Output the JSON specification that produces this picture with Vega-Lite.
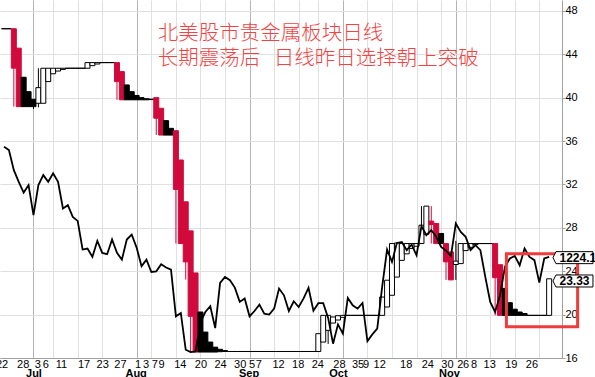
{
  "$schema": "https://vega.github.io/schema/vega-lite/v6.json",
  "width": 562,
  "height": 358,
  "autosize": {"type": "none"},
  "padding": {"left": 0, "top": 0, "right": 33, "bottom": 19},
  "background": "white",
  "config": {
    "view": {"stroke": null},
    "axis": {"labelFont": "Liberation Sans", "labelFontSize": 11, "labelColor": "#000000"}
  },
  "datasets": {
    "candles": [
      {"i":0,"o":46.35,"c":46.35,"t":"h"},
      {"i":1,"o":46.35,"c":46.35,"t":"h"},
      {"i":2,"o":46.35,"c":42.72,"t":"r","hi":46.35,"lo":39.17},
      {"i":3,"o":44.56,"c":39.17,"t":"r"},
      {"i":4,"o":41.88,"c":39.17,"t":"b"},
      {"i":5,"o":40.55,"c":39.17,"t":"b"},
      {"i":6,"o":39.85,"c":39.17,"t":"b","hi":39.85,"lo":38.95},
      {"i":7,"o":39.48,"c":40.92,"t":"h","hi":42.71,"lo":39.1},
      {"i":8,"o":39.48,"c":42.71,"t":"h"},
      {"i":9,"o":41.48,"c":42.71,"t":"h"},
      {"i":10,"o":42.2,"c":42.71,"t":"h"},
      {"i":11,"o":42.45,"c":42.71,"t":"h"},
      {"i":12,"o":42.6,"c":42.71,"t":"h"},
      {"i":13,"o":42.71,"c":42.71,"t":"h"},
      {"i":14,"o":42.71,"c":42.71,"t":"h"},
      {"i":15,"o":42.71,"c":42.71,"t":"h"},
      {"i":16,"o":42.71,"c":42.71,"t":"h"},
      {"i":17,"o":42.71,"c":43.23,"t":"h"},
      {"i":18,"o":42.95,"c":43.23,"t":"h"},
      {"i":19,"o":43.1,"c":43.23,"t":"h"},
      {"i":20,"o":43.23,"c":43.23,"t":"h"},
      {"i":21,"o":43.23,"c":43.23,"t":"h"},
      {"i":22,"o":43.23,"c":43.23,"t":"h"},
      {"i":23,"o":43.23,"c":41.48,"t":"r","hi":43.23,"lo":39.8},
      {"i":24,"o":42.4,"c":39.8,"t":"r"},
      {"i":25,"o":41.17,"c":39.8,"t":"b"},
      {"i":26,"o":40.55,"c":39.8,"t":"b"},
      {"i":27,"o":40.2,"c":39.8,"t":"b"},
      {"i":28,"o":40.0,"c":39.8,"t":"b"},
      {"i":29,"o":39.9,"c":39.8,"t":"b"},
      {"i":30,"o":39.86,"c":39.82,"t":"b"},
      {"i":31,"o":40.0,"c":38.1,"t":"r","hi":40.0,"lo":36.56},
      {"i":32,"o":39.02,"c":36.55,"t":"r"},
      {"i":33,"o":37.88,"c":36.55,"t":"b"},
      {"i":34,"o":37.17,"c":36.55,"t":"b"},
      {"i":35,"o":36.95,"c":31.54,"t":"r","hi":36.95,"lo":26.55},
      {"i":36,"o":34.25,"c":26.55,"t":"r"},
      {"i":37,"o":30.4,"c":24.86,"t":"r","hi":30.4,"lo":23.23},
      {"i":38,"o":27.72,"c":19.84,"t":"r","hi":27.72,"lo":16.55},
      {"i":39,"o":23.84,"c":16.55,"t":"r"},
      {"i":40,"o":20.24,"c":16.55,"t":"b"},
      {"i":41,"o":18.39,"c":16.55,"t":"b"},
      {"i":42,"o":17.47,"c":16.55,"t":"b"},
      {"i":43,"o":17.0,"c":16.55,"t":"b"},
      {"i":44,"o":16.8,"c":16.58,"t":"b"},
      {"i":45,"o":16.68,"c":16.6,"t":"b"},
      {"i":46,"o":16.6,"c":16.6,"t":"h"},
      {"i":47,"o":16.6,"c":16.6,"t":"h"},
      {"i":48,"o":16.6,"c":16.6,"t":"h"},
      {"i":49,"o":16.6,"c":16.6,"t":"h"},
      {"i":50,"o":16.6,"c":16.6,"t":"h"},
      {"i":51,"o":16.6,"c":16.6,"t":"h"},
      {"i":52,"o":16.6,"c":16.6,"t":"h"},
      {"i":53,"o":16.6,"c":16.6,"t":"h"},
      {"i":54,"o":16.6,"c":16.6,"t":"h"},
      {"i":55,"o":16.6,"c":16.6,"t":"h"},
      {"i":56,"o":16.6,"c":16.6,"t":"h"},
      {"i":57,"o":16.6,"c":16.6,"t":"h"},
      {"i":58,"o":16.6,"c":16.6,"t":"h"},
      {"i":59,"o":16.6,"c":16.6,"t":"h"},
      {"i":60,"o":16.6,"c":16.6,"t":"h"},
      {"i":61,"o":16.6,"c":16.6,"t":"h"},
      {"i":62,"o":16.6,"c":16.6,"t":"h"},
      {"i":63,"o":16.6,"c":16.6,"t":"h"},
      {"i":64,"o":16.6,"c":18.24,"t":"h"},
      {"i":65,"o":17.47,"c":19.93,"t":"h"},
      {"i":66,"o":18.55,"c":19.93,"t":"h","hi":19.93,"lo":17.3},
      {"i":67,"o":19.22,"c":19.78,"t":"h"},
      {"i":68,"o":19.5,"c":19.9,"t":"h"},
      {"i":69,"o":19.75,"c":19.93,"t":"h"},
      {"i":70,"o":19.93,"c":19.93,"t":"h"},
      {"i":71,"o":19.93,"c":19.93,"t":"h"},
      {"i":72,"o":19.93,"c":19.93,"t":"h"},
      {"i":73,"o":19.93,"c":19.93,"t":"h"},
      {"i":74,"o":19.93,"c":19.93,"t":"h"},
      {"i":75,"o":19.93,"c":19.93,"t":"h"},
      {"i":76,"o":19.93,"c":19.93,"t":"h"},
      {"i":77,"o":19.93,"c":21.62,"t":"h"},
      {"i":78,"o":20.7,"c":23.17,"t":"h"},
      {"i":79,"o":21.78,"c":26.55,"t":"h"},
      {"i":80,"o":23.46,"c":26.6,"t":"h"},
      {"i":81,"o":25.0,"c":26.55,"t":"h"},
      {"i":82,"o":25.6,"c":26.55,"t":"h"},
      {"i":83,"o":26.1,"c":26.55,"t":"h"},
      {"i":84,"o":26.3,"c":26.55,"t":"h"},
      {"i":85,"o":26.55,"c":28.24,"t":"h","hi":30.0,"lo":26.55},
      {"i":86,"o":27.4,"c":30.0,"t":"h"},
      {"i":87,"o":28.62,"c":28.3,"t":"r","hi":30.0,"lo":26.55},
      {"i":88,"o":28.4,"c":26.55,"t":"r"},
      {"i":89,"o":27.48,"c":26.55,"t":"b"},
      {"i":90,"o":26.55,"c":24.86,"t":"r","hi":26.55,"lo":23.2},
      {"i":91,"o":25.78,"c":23.2,"t":"r"},
      {"i":92,"o":24.62,"c":24.93,"t":"h","hi":26.8,"lo":23.2},
      {"i":93,"o":24.7,"c":26.55,"t":"h"},
      {"i":94,"o":25.9,"c":26.55,"t":"h"},
      {"i":95,"o":26.2,"c":26.55,"t":"h"},
      {"i":96,"o":26.45,"c":26.55,"t":"h"},
      {"i":97,"o":26.55,"c":26.55,"t":"h"},
      {"i":98,"o":26.55,"c":26.55,"t":"h"},
      {"i":99,"o":26.55,"c":26.55,"t":"h"},
      {"i":100,"o":26.55,"c":23.4,"t":"r","hi":26.55,"lo":19.93},
      {"i":101,"o":24.6,"c":19.93,"t":"r"},
      {"i":102,"o":22.42,"c":19.93,"t":"b"},
      {"i":103,"o":21.1,"c":19.93,"t":"b"},
      {"i":104,"o":20.5,"c":19.93,"t":"b"},
      {"i":105,"o":20.24,"c":19.93,"t":"b"},
      {"i":106,"o":20.1,"c":19.93,"t":"b"},
      {"i":107,"o":19.93,"c":19.93,"t":"h"},
      {"i":108,"o":19.93,"c":19.93,"t":"h"},
      {"i":109,"o":19.93,"c":19.93,"t":"h"},
      {"i":110,"o":19.93,"c":19.93,"t":"h"},
      {"i":111,"o":19.93,"c":23.3,"t":"h"}
    ],
    "gold": [
      {"i":0,"v":35.48},{"i":1,"v":35.17},{"i":2,"v":33.32},{"i":3,"v":32.24},{"i":4,"v":31.25},
      {"i":5,"v":31.94},{"i":6,"v":29.17},{"i":7,"v":31.94},{"i":8,"v":32.86},{"i":9,"v":32.24},
      {"i":10,"v":33.02},{"i":11,"v":32.24},{"i":12,"v":29.78},{"i":13,"v":30.09},{"i":14,"v":29.01},
      {"i":15,"v":28.64},{"i":16,"v":26.0},{"i":17,"v":26.09},{"i":18,"v":25.32},{"i":19,"v":26.8},
      {"i":20,"v":25.69},{"i":21,"v":25.57},{"i":22,"v":26.92},{"i":23,"v":25.69},{"i":24,"v":25.07},
      {"i":25,"v":26.92},{"i":26,"v":27.38},{"i":27,"v":26.18},{"i":28,"v":24.46},{"i":29,"v":25.07},
      {"i":30,"v":23.93},{"i":31,"v":23.99},{"i":32,"v":24.64},{"i":33,"v":24.34},{"i":34,"v":24.15},
      {"i":35,"v":19.84},{"i":36,"v":20.15},{"i":37,"v":16.76},{"i":38,"v":16.55},{"i":39,"v":16.6},
      {"i":40,"v":19.32},{"i":41,"v":20.24},{"i":42,"v":20.77},{"i":43,"v":18.76},{"i":44,"v":22.92},
      {"i":45,"v":23.47},{"i":46,"v":23.17},{"i":47,"v":22.49},{"i":48,"v":21.17},{"i":49,"v":21.48},
      {"i":50,"v":19.84},{"i":51,"v":20.33},{"i":52,"v":20.92},{"i":53,"v":20.09},{"i":54,"v":20.0},
      {"i":55,"v":20.55},{"i":56,"v":22.4},{"i":57,"v":21.78},{"i":58,"v":20.33},{"i":59,"v":21.23},
      {"i":60,"v":20.7},{"i":61,"v":21.5},{"i":62,"v":22.47},{"i":63,"v":20.35},{"i":64,"v":21.05},
      {"i":65,"v":21.05},{"i":66,"v":19.7},{"i":67,"v":17.32},{"i":68,"v":19.1},{"i":69,"v":18.24},
      {"i":70,"v":21.54},{"i":71,"v":20.86},{"i":72,"v":20.55},{"i":73,"v":21.07},{"i":74,"v":17.56},
      {"i":75,"v":18.18},{"i":76,"v":18.7},{"i":77,"v":22.55},{"i":78,"v":26.0},{"i":79,"v":24.86},
      {"i":80,"v":26.61},{"i":81,"v":26.7},{"i":82,"v":25.94},{"i":83,"v":26.46},{"i":84,"v":25.47},
      {"i":85,"v":28.15},{"i":86,"v":27.32},{"i":87,"v":27.78},{"i":88,"v":27.17},{"i":89,"v":26.24},
      {"i":90,"v":25.9},{"i":91,"v":25.4},{"i":92,"v":28.4},{"i":93,"v":27.63},{"i":94,"v":27.17},
      {"i":95,"v":25.94},{"i":96,"v":26.4},{"i":97,"v":25.94},{"i":98,"v":23.47},{"i":99,"v":21.17},
      {"i":100,"v":20.24},{"i":101,"v":21.78},{"i":102,"v":24.4},{"i":103,"v":25.17},{"i":104,"v":25.41},
      {"i":105,"v":24.55},{"i":106,"v":26.09},{"i":107,"v":25.32},{"i":108,"v":25.02},{"i":109,"v":22.95},
      {"i":110,"v":25.17},{"i":111,"v":25.32}
    ],
    "box": [{"xa":102.3,"xb":116.8,"ya":25.6,"yb":18.89}],
    "tags": [{"tag":"1224.1","v":25.25},{"tag":"23.33","v":23.1}],
    "titles": [
      {"txt":"北美股市贵金属板块日线","v":45.9},
      {"txt":"长期震荡后\u00a0\u00a0\u00a0日线昨日选择朝上突破","v":43.6}
    ]
  },
  "resolve": {"axis": {"x": "independent"}},
  "layer": [
    {
      "data": {"name": "candles"},
      "transform": [{"filter": "isValid(datum.lo)"}],
      "mark": {"type": "rule", "strokeWidth": 1},
      "encoding": {
        "x": {"field": "i", "type": "quantitative", "title": null,
              "scale": {"domain": [0.2, 112.6], "nice": false, "zero": false},
              "axis": {"orient": "bottom", "values": [6,10,15,20,27,30,35,40,45,50,55,60,64,69,74,79,84,89,92,94,99,104,109],
                       "grid": true, "gridColor": {"condition": {"test": "indexof([6,27,50,69,92], datum.value) >= 0", "value": "#b4b4b4"}, "value": "#e0e0e0"},
                       "gridWidth": 1, "labels": false, "ticks": false, "domain": false}},
        "y": {"field": "lo", "type": "quantitative", "title": null,
              "scale": {"domain": [16, 49], "nice": false, "zero": false},
              "axis": {"orient": "right", "values": [16,18,20,22,24,26,28,30,32,34,36,38,40,42,44,46,48],
                       "grid": true, "gridColor": "#e0e0e0", "domain": true, "domainColor": "#a0a0a0",
                       "ticks": true, "tickSize": 3, "tickColor": "#a0a0a0", "labelPadding": 0}},
        "y2": {"field": "hi"},
        "stroke": {"field": "t", "type": "nominal", "legend": null,
                   "scale": {"domain": ["r","b","h"], "range": ["#d10a3c","#000000","#000000"]}}
      }
    },
    {
      "data": {"name": "candles"},
      "mark": {"type": "bar", "width": 5, "strokeWidth": 1},
      "encoding": {
        "x": {"field": "i", "type": "quantitative", "title": null,
              "scale": {"domain": [0.2, 112.6], "nice": false, "zero": false},
              "axis": {"orient": "bottom", "grid": false, "ticks": false, "domain": true, "domainColor": "#a0a0a0",
                       "labelPadding": 0, "labelOverlap": false, "labelFlush": false, "labelBound": false, "labelAlign": "center",
                       "values": [-0.5,3.8,6.8,8.4,11.6,16.2,20,23.6,27.2,28.8,30.6,32,35.8,40,44,48,50.4,51.8,55.8,59.8,63.8,68.2,71.4,72.6,73.6,76.4,81.8,86.2,90.2,92.8,94,95.6,98.8,103.2,107.4],
                       "labelExpr": "['22','28','3','6','11','17','23','27','1','3','7','9','14','20','24','30','5','7','12','18','24','28','3','5','9','12','18','24','30','2','6','8','13','19','26'][indexof([-0.5,3.8,6.8,8.4,11.6,16.2,20,23.6,27.2,28.8,30.6,32,35.8,40,44,48,50.4,51.8,55.8,59.8,63.8,68.2,71.4,72.6,73.6,76.4,81.8,86.2,90.2,92.8,94,95.6,98.8,103.2,107.4], datum.value)]"}},
        "y": {"field": "o", "type": "quantitative", "title": null, "scale": {"domain": [16, 49], "nice": false, "zero": false}},
        "y2": {"field": "c"},
        "fill": {"field": "t", "type": "nominal", "legend": null,
                 "scale": {"domain": ["r","b","h"], "range": ["#d10a3c","#000000","#ffffff"]}},
        "stroke": {"field": "t", "type": "nominal", "legend": null,
                   "scale": {"domain": ["r","b","h"], "range": ["#d10a3c","#000000","#000000"]}}
      }
    },
    {
      "data": {"name": "gold"},
      "mark": {"type": "line", "color": "#000000", "strokeWidth": 1.8},
      "encoding": {
        "x": {"field": "i", "type": "quantitative", "title": null,
              "scale": {"domain": [0.2, 112.6], "nice": false, "zero": false},
              "axis": {"orient": "bottom", "grid": false, "ticks": false, "domain": false,
                       "labelPadding": 9.5, "labelOverlap": false, "labelFlush": false, "labelBound": false, "labelAlign": "center",
                       "labelFontWeight": "bold", "labelFontSize": 11,
                       "values": [6, 26.8, 49.8, 68, 90.6],
                       "labelExpr": "['Jul','Aug','Sep','Oct','Nov'][indexof([6, 26.8, 49.8, 68, 90.6], datum.value)]"}},
        "y": {"field": "v", "type": "quantitative", "title": null, "scale": {"domain": [16, 49], "nice": false, "zero": false}}
      }
    },
    {
      "data": {"name": "box"},
      "mark": {"type": "rect", "fillOpacity": 0, "stroke": "#ee3b3b", "strokeWidth": 3, "clip": false},
      "encoding": {
        "x": {"field": "xa", "type": "quantitative", "title": null, "axis": null,
              "scale": {"domain": [0.2, 112.6], "nice": false, "zero": false}},
        "x2": {"field": "xb"},
        "y": {"field": "ya", "type": "quantitative", "title": null, "scale": {"domain": [16, 49], "nice": false, "zero": false}},
        "y2": {"field": "yb"}
      }
    },
    {
      "data": {"name": "tags"},
      "mark": {"type": "point", "shape": "M-1,0L-0.85,-0.3L1,-0.3L1,0.3L-0.85,0.3Z", "size": 1600,
               "filled": true, "fill": "#ffffff", "stroke": "#000000", "strokeWidth": 1, "opacity": 1, "clip": false},
      "encoding": {
        "x": {"datum": 115.85, "type": "quantitative", "axis": null, "title": null,
              "scale": {"domain": [0.2, 112.6], "nice": false, "zero": false}},
        "y": {"field": "v", "type": "quantitative", "title": null, "scale": {"domain": [16, 49], "nice": false, "zero": false}}
      }
    },
    {
      "data": {"name": "tags"},
      "mark": {"type": "text", "align": "left", "baseline": "middle", "font": "Liberation Sans",
               "fontSize": 12, "fontWeight": "bold", "color": "#000000", "clip": false},
      "encoding": {
        "x": {"datum": 113.1, "type": "quantitative", "axis": null, "title": null,
              "scale": {"domain": [0.2, 112.6], "nice": false, "zero": false}},
        "y": {"field": "v", "type": "quantitative", "title": null, "scale": {"domain": [16, 49], "nice": false, "zero": false}},
        "text": {"field": "tag"}
      }
    },
    {
      "data": {"name": "titles"},
      "mark": {"type": "text", "align": "left", "baseline": "middle", "font": "Noto Sans CJK SC",
               "fontSize": 20.5, "fontWeight": 300, "color": "#f04444"},
      "encoding": {
        "x": {"datum": 31.3, "type": "quantitative", "axis": null, "title": null,
              "scale": {"domain": [0.2, 112.6], "nice": false, "zero": false}},
        "y": {"field": "v", "type": "quantitative", "title": null, "scale": {"domain": [16, 49], "nice": false, "zero": false}},
        "text": {"field": "txt"}
      }
    }
  ]
}
